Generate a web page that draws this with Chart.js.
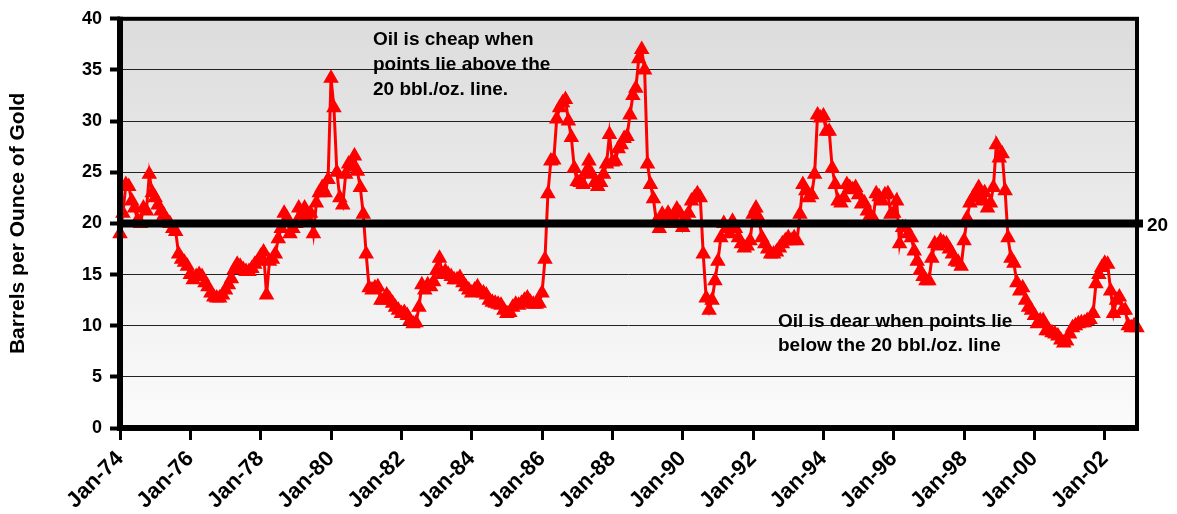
<!DOCTYPE html>
<html>
<head>
<meta charset="utf-8">
<script src="https://cdn.jsdelivr.net/npm/chart.js@4/dist/chart.umd.min.js"></script>
<style>
  html, body { margin: 0; padding: 0; background: #fff; }
  #wrap { width: 1177px; height: 514px; position: relative; }
</style>
</head>
<body>
<div id="wrap"><canvas id="chart"></canvas></div>
<script>
// gold / oil ratio, monthly, Jan-74 .. Dec-02
const ratio70s = [
    19, 21, 23.8, 23.6, 22.2, 21.5, 20.3, 20, 21.5, 21.2, 24.8, 23,          // 1974
    22.5, 21.8, 21.2, 20.8, 20.3, 20, 19.5, 19.2, 17, 16.5, 16.2, 15.8,      // 1975
    15, 14.5, 14.8, 15, 14.8, 14.2, 13.8, 13.2, 12.8, 12.7, 12.7, 13,        // 1976
    13.5, 14, 14.6, 15.5, 16, 15.8, 15.5, 15.3, 15.3, 15.6, 16, 16.3,        // 1977
    16.8, 17.2, 13, 16.3, 16.5, 17, 18.5, 19.5, 21, 20.5, 19, 19.5,          // 1978
    20, 21.5, 20.8, 21.5, 20.5, 21, 19, 22, 23, 23.5, 23, 24.3               // 1979
];
const ratio80s = [
    34.2, 31.3, 25, 22.5, 21.8, 24.8, 25.8, 25.5, 26.6, 25.1, 23.5, 20.9,    // 1980
    17, 13.7, 13.5, 13.7, 13.8, 12.5, 12.5, 13, 12.6, 12.2, 11.8, 11.5,      // 1981
    11.2, 11.3, 11, 10.5, 10.2, 10.3, 11.8, 14, 13.5, 14, 13.8, 14.3,        // 1982
    15.4, 16.6, 15, 15.3, 15, 14.8, 14.5, 14.5, 14.7, 14.2, 13.8, 13.5,      // 1983
    13.2, 13.5, 13.8, 13.3, 13.2, 13, 12.5, 12.3, 12.2, 12.1, 12, 11.5,      // 1984
    11.2, 11.3, 11.8, 12.1, 12, 12.2, 12.5, 12.7, 12.3, 12.1, 12.1, 12.2,    // 1985
    13.2, 16.5, 22.9, 26.1, 26.2, 30.2, 31.3, 31.8, 32.1, 30, 28.4, 25.4,    // 1986
    24.1, 24, 23.8, 25, 26.1, 24.8, 24, 23.6, 24, 24.8, 25.8, 28.7,          // 1987
    26, 26.1, 27.3, 27.7, 28.3, 28.5, 30.6, 32.5, 33.2, 36.1, 37, 35,        // 1988
    25.8, 23.8, 22.4, 20.2, 19.5, 20.9, 20.5, 21, 20, 20.5, 21.4, 21         // 1989
];
const ratio90s = [
    19.6, 20.5, 21, 22.2, 22.5, 22.9, 22.5, 17, 12.7, 11.5, 12.5, 14.4,      // 1990
    16.3, 18.6, 20, 19.5, 19, 20.2, 19.5, 18.6, 18, 17.6, 17.8, 18.3,        // 1991
    20.9, 21.5, 20.5, 18.6, 18, 17.5, 17, 17, 17.2, 17.6, 18, 18.3,          // 1992
    18.6, 18.3, 18.6, 18.3, 20.9, 23.8, 23.2, 22.5, 22.8, 24.8, 30.6, 30.3,  // 1993
    30.5, 29, 29, 25.4, 23.8, 22.2, 22, 22.5, 23.8, 23.5, 23.3, 23.5,        // 1994
    22.8, 21.9, 22, 21.2, 20.8, 20.5, 22.9, 22.6, 22.2, 22.8, 22.9, 20.9,    // 1995
    21, 22.2, 18, 19.6, 19.6, 19, 18.6, 17.3, 16.3, 15.4, 14.8, 14.4,        // 1996
    14.4, 16.6, 18, 17.8, 18.3, 18.1, 18, 17.5, 17, 16.3, 16.2, 15.8,        // 1997
    18.3, 20.5, 22, 22.5, 22.8, 23.5, 22.2, 23, 21.5, 22, 23.5, 27.7,        // 1998
    26.4, 26.8, 23.2, 18.6, 16.6, 16.1, 14.2, 13.4, 13.7, 12.5, 11.8, 11.5   // 1999
];
const ratio00s = [
    11, 10.2, 10.5, 10.5, 9.5, 9.5, 9.3, 9.2, 9, 8.6, 8.3, 8.5,              // 2000
    9.2, 9.8, 10, 10.2, 10.3, 10.3, 10.5, 10.6, 11.2, 14.1, 15, 15.7,        // 2001
    16.1, 16, 13.4, 11.2, 12.5, 12.8, 11.5, 11.5, 10, 9.8, 10, 9.8           // 2002
];
const ratio = [...ratio70s, ...ratio80s, ...ratio90s, ...ratio00s];

const years = [];
for (let y = 1974; y <= 2002; y++) years.push(y);
const monthNames = ['Jan', 'Feb', 'Mar', 'Apr', 'May', 'Jun', 'Jul', 'Aug', 'Sep', 'Oct', 'Nov', 'Dec'];
const labels = [];
years.forEach(y => monthNames.forEach(m => labels.push(m + '-' + String(y).slice(2))));

const threshold = 20;
const cheapNote = ['Oil is cheap when', 'points lie above the', '20 bbl./oz. line.'];
const dearNote = ['Oil is dear when points lie', 'below the 20 bbl./oz. line'];

const FONT = "'Liberation Sans', Arial, sans-serif";

const plotDecor = {
    id: 'plotDecor',
    beforeDraw(chart) {
        const { ctx, chartArea: a } = chart;
        const g = ctx.createLinearGradient(0, a.top, 0, a.bottom);
        g.addColorStop(0, '#dcdcdc');
        g.addColorStop(1, '#fbfbfb');
        ctx.save();
        ctx.fillStyle = g;
        ctx.fillRect(a.left, a.top, a.right - a.left, a.bottom - a.top);
        ctx.restore();
    },
    afterDatasetsDraw(chart) {
        const { ctx, chartArea: a, scales } = chart;
        ctx.save();
        // frame
        ctx.strokeStyle = '#000';
        ctx.lineWidth = 4;
        ctx.strokeRect(a.left, a.top, a.right - a.left, a.bottom - a.top);
        ctx.lineWidth = 6;
        ctx.beginPath();
        ctx.moveTo(a.left, a.top - 2);
        ctx.lineTo(a.left, a.bottom);
        ctx.lineTo(a.right + 2, a.bottom);
        ctx.stroke();
        // 20 bbl./oz. line
        const y20 = scales.y.getPixelForValue(threshold);
        ctx.lineWidth = 8;
        ctx.beginPath();
        ctx.moveTo(a.left, y20);
        ctx.lineTo(a.right + 6, y20);
        ctx.stroke();
        ctx.fillStyle = '#000';
        ctx.font = 'bold 19px ' + FONT;
        ctx.textBaseline = 'middle';
        ctx.fillText(String(threshold), a.right + 10, y20 + 2);
        // notes
        ctx.font = 'bold 19px ' + FONT;
        cheapNote.forEach((t, i) => ctx.fillText(t, 373, 40 + i * 25));
        dearNote.forEach((t, i) => ctx.fillText(t, 778, 322 + i * 24));
        ctx.restore();
    }
};

new Chart(document.getElementById('chart'), {
    type: 'line',
    data: {
        labels,
        datasets: [{
            data: ratio,
            borderColor: '#ff0000',
            backgroundColor: '#ff0000',
            borderWidth: 3,
            tension: 0,
            pointStyle: 'triangle',
            pointRadius: 7.5,
            pointBorderWidth: 1.5,
            pointBackgroundColor: '#ff0000',
            pointBorderColor: '#ff0000'
        }]
    },
    options: {
        responsive: true,
        maintainAspectRatio: false,
        animation: false,
        layout: { padding: { top: 17, right: 40, left: 0, bottom: 0 } },
        scales: {
            x: {
                type: 'category',
                afterFit: s => { s.height = 86; },
                grid: { drawOnChartArea: false, color: '#000', tickLength: 12, lineWidth: 3 },
                border: { display: false },
                ticks: {
                    autoSkip: false,
                    minRotation: 45,
                    maxRotation: 45,
                    padding: 6,
                    color: '#000',
                    font: { family: FONT, size: 22, weight: 'bold' },
                    callback: (v, i) => (i % 24 === 0 ? labels[i] : null)
                }
            },
            y: {
                min: 0,
                max: 40,
                afterFit: s => { s.width = 120; },
                grid: { color: '#222', lineWidth: 1, tickLength: 10, tickColor: '#000', tickWidth: 4 },
                border: { display: false },
                ticks: {
                    stepSize: 5,
                    padding: 8,
                    color: '#000',
                    font: { family: FONT, size: 18, weight: 'bold' }
                },
                title: {
                    display: true,
                    text: 'Barrels per Ounce of Gold',
                    color: '#000',
                    padding: { top: 6, bottom: 0 },
                    font: { family: FONT, size: 21, weight: 'bold' }
                }
            }
        },
        plugins: {
            legend: { display: false },
            tooltip: { enabled: false }
        }
    },
    plugins: [plotDecor]
});
</script>
</body>
</html>
